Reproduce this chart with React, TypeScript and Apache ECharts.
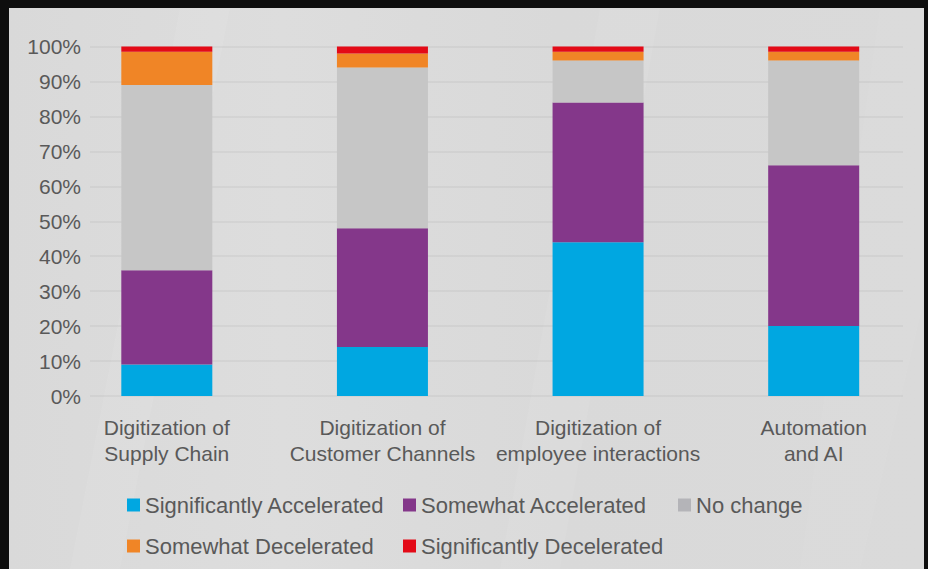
import React, { useEffect, useRef } from "react";
import * as echarts from "echarts";

const categories = [
  "Digitization of\nSupply Chain",
  "Digitization of\nCustomer Channels",
  "Digitization of\nemployee interactions",
  "Automation\nand AI",
];
const seriesNames = [
  "Significantly Accelerated",
  "Somewhat Accelerated",
  "No change",
  "Somewhat Decelerated",
  "Significantly Decelerated",
];
const significantlyAccelerated = [9, 14, 44, 20];
const somewhatAccelerated = [27, 34, 40, 46];
const noChange = [53, 46, 12, 30];
const somewhatDecelerated = [9.5, 4, 2.5, 2.5];
const significantlyDecelerated = [1.5, 2, 1.5, 1.5];
const seriesColors = ["#00A7E1", "#84378A", "#C6C6C6", "#F08526", "#E30A17"];
const legendIconColors = ["#00A7E1", "#84378A", "#B4B4B8", "#F08526", "#E30A17"];

const FONT = "'Liberation Sans', Arial, Helvetica, sans-serif";
const TEXT = "#595959";

export default function App() {
  const ref = useRef<HTMLDivElement>(null);
  useEffect(() => {
    if (!ref.current) return;
    const chart = echarts.init(ref.current, undefined, { renderer: "svg" });
    const values = [
      significantlyAccelerated,
      somewhatAccelerated,
      noChange,
      somewhatDecelerated,
      significantlyDecelerated,
    ];
    const legendPos = [
      { left: 127, top: 493 },
      { left: 403, top: 493 },
      { left: 678, top: 493 },
      { left: 127, top: 534 },
      { left: 403, top: 534 },
    ];
    chart.setOption({
      animation: false,
      backgroundColor: "#0e0e0e",
      textStyle: { fontFamily: FONT },
      graphic: [
        {
          type: "rect",
          z: -10,
          shape: { x: 9, y: 8, width: 915, height: 575 },
          style: {
            fill: {
              type: "linear",
              x: 0,
              y: 0,
              x2: 1,
              y2: 0,
              colorStops: [
                { offset: 0, color: "#d9d9d9" },
                { offset: 0.3, color: "#dddddd" },
                { offset: 0.6, color: "#d9d9d9" },
                { offset: 1, color: "#dadada" },
              ],
            },
          },
        },
        {
          type: "polygon",
          z: -9,
          shape: { points: [[180, 8], [230, 8], [120, 569], [70, 569]] },
          style: { fill: "rgba(255,255,255,0.07)" },
        },
        {
          type: "polygon",
          z: -9,
          shape: { points: [[600, 8], [660, 8], [560, 569], [500, 569]] },
          style: { fill: "rgba(255,255,255,0.06)" },
        },
        {
          type: "polygon",
          z: -9,
          shape: { points: [[880, 8], [924, 8], [924, 300], [860, 569], [800, 569]] },
          style: { fill: "rgba(255,255,255,0.05)" },
        },
      ],
      legend: seriesNames.map((name, i) => ({
        data: [{ name, itemStyle: { color: legendIconColors[i] } }],
        left: legendPos[i].left,
        top: legendPos[i].top,
        padding: 0,
        icon: "rect",
        itemWidth: 13,
        itemHeight: 13,
        itemGap: 5,
        selectedMode: false,
        textStyle: { color: TEXT, fontSize: 22, fontFamily: FONT, lineHeight: 24 },
      })),
      grid: [
        { left: 59, right: 6.5, top: 46.5, bottom: 173, containLabel: false },
        { left: 90, right: 25, top: 46.5, bottom: 173, containLabel: false },
      ],
      xAxis: [
        {
          type: "category",
          gridIndex: 0,
          data: categories,
          axisLine: { show: false },
          axisTick: { show: false },
          axisLabel: {
            color: TEXT,
            fontSize: 21,
            fontFamily: FONT,
            lineHeight: 26,
            margin: 18,
            interval: 0,
          },
        },
        { type: "value", gridIndex: 1, min: 0, max: 1, show: false },
      ],
      yAxis: [
        {
          type: "value",
          gridIndex: 0,
          min: 0,
          max: 100,
          interval: 10,
          show: false,
          splitLine: { show: false },
        },
        {
          type: "value",
          gridIndex: 1,
          min: 0,
          max: 100,
          interval: 10,
          axisLine: { show: false },
          axisTick: { show: false },
          axisLabel: {
            formatter: "{value}%",
            color: TEXT,
            fontSize: 21,
            fontFamily: FONT,
            margin: 9,
          },
          splitLine: { lineStyle: { color: "rgba(0,0,0,0.04)", width: 2 } },
        },
      ],
      series: seriesNames.map((name, i) => ({
        name,
        type: "bar",
        stack: "total",
        xAxisIndex: 0,
        yAxisIndex: 0,
        barWidth: 91,
        data: values[i],
        itemStyle: { color: seriesColors[i] },
        emphasis: { disabled: true },
      })),
    });
    return () => chart.dispose();
  }, []);
  return (
    <div
      ref={ref}
      style={{ position: "fixed", left: 0, top: 0, width: 928, height: 569 }}
    />
  );
}
